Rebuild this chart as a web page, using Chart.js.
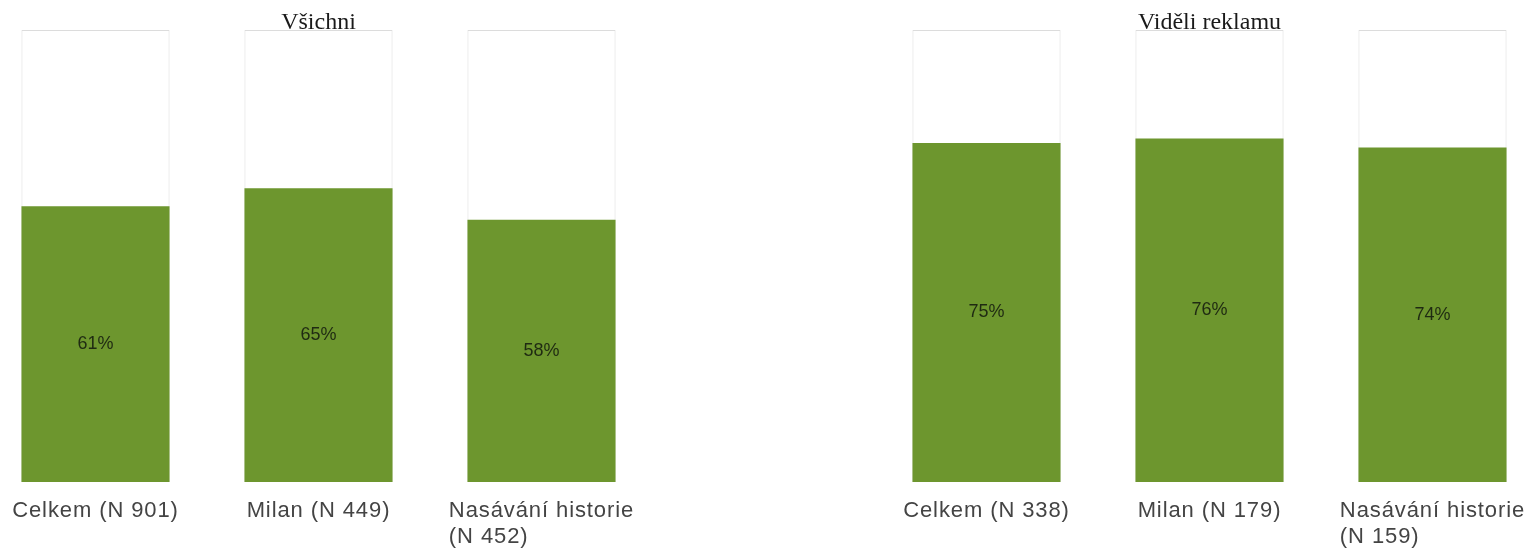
<!DOCTYPE html>
<html>
<head>
<meta charset="utf-8">
<script src="https://cdn.jsdelivr.net/npm/chart.js@4"></script>
<style>
  html, body { margin: 0; padding: 0; background: #fff; overflow: hidden; }
  body { width: 1527px; height: 550px; position: relative; }
  .panel { position: absolute; top: 0; width: 669px; height: 550px; }
  #leftPanel { left: -16px; }
  #rightPanel { left: 875px; }
</style>
</head>
<body>
<div class="panel" id="leftPanel"><canvas id="leftChart"></canvas></div>
<div class="panel" id="rightPanel"><canvas id="rightChart"></canvas></div>

<script>
// ---------------------------------------------------------
// Data
// ---------------------------------------------------------
const leftTitle = "Všichni";
const leftCategories = [["Celkem (N 901)"], ["Milan (N 449)"], ["Nasávání historie", "(N 452)"]];
const leftValues = [61, 65, 58];

const rightTitle = "Viděli reklamu";
const rightCategories = [["Celkem (N 338)"], ["Milan (N 179)"], ["Nasávání historie", "(N 159)"]];
const rightValues = [75, 76, 74];

const fullValue = 100;   // background "box" for every bar

const GREEN = "#6d962e";
const BOX_BORDER = "#dcdcdc";

// ---------------------------------------------------------
// Plugin: title, value labels, multi-line category labels
// ---------------------------------------------------------
const textPlugin = {
  id: "panelText",
  afterDatasetsDraw(chart, args, opts) {
    const ctx = chart.ctx;
    const area = chart.chartArea;
    const meta = chart.getDatasetMeta(0);

    ctx.save();

    // title (serif, sits on the top edge of the boxes)
    ctx.font = "24px 'Liberation Serif', 'Times New Roman', serif";
    ctx.fillStyle = "#1a1a1a";
    ctx.textAlign = "center";
    ctx.textBaseline = "alphabetic";
    ctx.fillText(opts.title, (area.left + area.right) / 2, 29);

    // percentage in the middle of each green bar
    ctx.font = "18px 'Liberation Sans', Arial, sans-serif";
    ctx.fillStyle = "#1f2a12";
    ctx.textBaseline = "middle";
    meta.data.forEach((bar, i) => {
      const v = chart.data.datasets[0].data[i];
      ctx.fillText(v + "%", bar.x, (bar.y + bar.base) / 2);
    });

    // category labels below, left-aligned block centred on the bar
    ctx.font = "22px 'Liberation Sans', Arial, sans-serif";
    ctx.letterSpacing = "0.9px";
    ctx.fillStyle = "#444";
    ctx.textAlign = "left";
    ctx.textBaseline = "alphabetic";
    chart.data.labels.forEach((lines, i) => {
      const x = meta.data[i].x;
      const maxW = Math.max(...lines.map(l => ctx.measureText(l).width));
      lines.forEach((line, j) => {
        ctx.fillText(line, x - maxW / 2, area.bottom + 35 + j * 26);
      });
    });

    ctx.restore();
  }
};

// ---------------------------------------------------------
// Build one panel
// ---------------------------------------------------------
function makePanel(canvasId, title, categories, values) {
  return new Chart(document.getElementById(canvasId), {
    type: "bar",
    data: {
      labels: categories,
      datasets: [
        {
          data: values,
          backgroundColor: GREEN,
          borderWidth: 0,
          grouped: false
        },
        {
          data: categories.map(() => fullValue),
          backgroundColor: "#ffffff",
          borderColor: BOX_BORDER,
          borderWidth: 1,
          grouped: false
        }
      ]
    },
    options: {
      responsive: true,
      maintainAspectRatio: false,
      animation: false,
      layout: { padding: { top: 30, bottom: 68, left: 0, right: 0 } },
      datasets: { bar: { categoryPercentage: 1, barPercentage: 0.664 } },
      scales: {
        x: { display: false },
        y: { display: false, min: 0, max: 100 }
      },
      plugins: {
        legend: { display: false },
        tooltip: { enabled: false },
        panelText: { title: title }
      }
    },
    plugins: [textPlugin]
  });
}

makePanel("leftChart", leftTitle, leftCategories, leftValues);
makePanel("rightChart", rightTitle, rightCategories, rightValues);
</script>
</body>
</html>
